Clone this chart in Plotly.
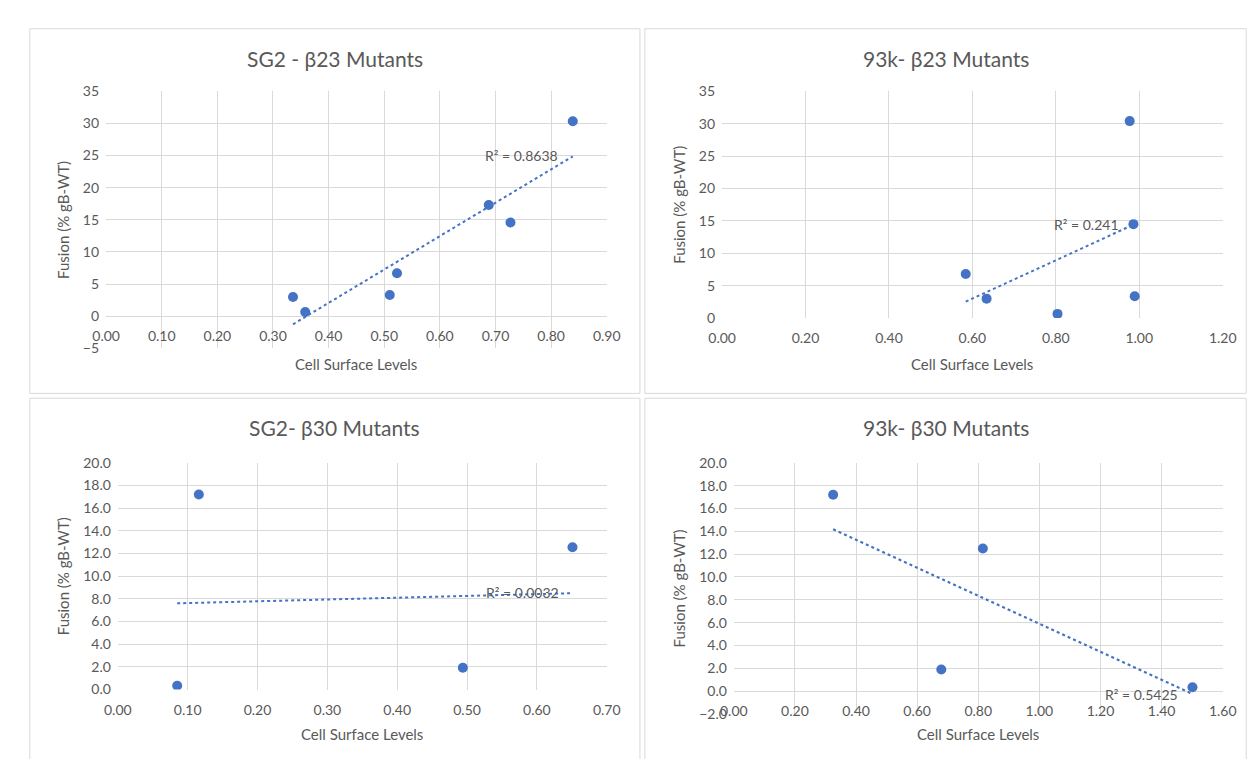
import numpy as np
import plotly.graph_objects as go

W, H = 1260, 759

# ---------------- data ----------------
titles = ["SG2 - β23 Mutants", "93k- β23 Mutants", "SG2- β30 Mutants", "93k- β30 Mutants"]
x_title = "Cell Surface Levels"
y_title = "Fusion (% gB-WT)"

sg2_b23_x = [0.336, 0.358, 0.510, 0.523, 0.688, 0.727, 0.839]
sg2_b23_y = [3.0, 0.65, 3.3, 6.7, 17.3, 14.6, 30.35]

k93_b23_x = [0.584, 0.634, 0.804, 0.977, 0.986, 0.989]
k93_b23_y = [6.8, 3.0, 0.65, 30.4, 14.5, 3.36]

sg2_b30_x = [0.085, 0.116, 0.494, 0.651]
sg2_b30_y = [0.34, 17.2, 1.92, 12.55]

k93_b30_x = [0.325, 0.679, 0.815, 1.501]
k93_b30_y = [17.2, 1.9, 12.5, 0.34]

r2_labels = ["R² = 0.8638", "R² = 0.241", "R² = 0.0032", "R² = 0.5425"]

x_ranges = [[0, 0.9], [0, 1.2], [0, 0.7], [0, 1.6]]
x_dticks = [0.1, 0.2, 0.1, 0.2]
y_ranges = [[-5, 35], [0, 35], [0, 20], [-2, 20]]
y_dticks = [5, 5, 2, 2]
y_formats = ["d", "d", ".1f", ".1f"]

series = [(sg2_b23_x, sg2_b23_y), (k93_b23_x, k93_b23_y),
          (sg2_b30_x, sg2_b30_y), (k93_b30_x, k93_b30_y)]

# ---------------- layout geometry (pixels) ----------------
plot_boxes = [(86, 76, 598, 339), (716, 76, 1228, 308),
              (98, 456, 598, 688), (728, 456, 1228, 713)]
panel_boxes = [(8, 12, 632, 385), (637, 12, 1252, 385),
               (8, 390, 632, 770), (637, 390, 1252, 770)]
title_pos = [(320, 42), (945, 42), (320, 420), (945, 420)]
xtitle_y = [355, 355, 733, 733]
ytitle_x = [42, 672, 42, 672]
label_pos = [(0.747, 25.0), (0.873, 14.4), (0.579, 8.54), (1.333, -0.29)]

BLUE = "#4472C4"
GRID = "#d9d9d9"
TXT = "#595959"
FONT = "Lato"

fig = go.Figure()
annotations = []
shapes = []

for i in range(4):
    xs, ys = series[i]
    sfx = "" if i == 0 else str(i + 1)
    l, t, r, b = plot_boxes[i]
    xdom = [l / W, r / W]
    ydom = [1 - b / H, 1 - t / H]
    ymin, ymax = y_ranges[i]
    pos = ydom[0] + (0 - ymin) / (ymax - ymin) * (ydom[1] - ydom[0])

    # trendline (least squares fit of the data)
    k, c = np.polyfit(xs, ys, 1)
    tx = [min(xs), max(xs)]
    ty = [k * v + c for v in tx]
    fig.add_trace(go.Scatter(x=tx, y=ty, mode="lines",
                             line=dict(color=BLUE, width=2, dash="dot"),
                             xaxis="x" + sfx, yaxis="y" + sfx,
                             showlegend=False, hoverinfo="skip"))
    fig.add_trace(go.Scatter(x=xs, y=ys, mode="markers",
                             marker=dict(color=BLUE, size=10),
                             xaxis="x" + sfx, yaxis="y" + sfx,
                             showlegend=False))

    fig.layout["xaxis" + sfx] = dict(
        domain=xdom, range=x_ranges[i], dtick=x_dticks[i], tick0=0,
        tickformat=".2f", anchor="free", position=pos,
        showgrid=True, gridcolor=GRID, gridwidth=1, zeroline=False,
        showline=False, ticks="", ticklabelstandoff=10,
        tickfont=dict(family=FONT, size=14, color=TXT), fixedrange=True)
    fig.layout["yaxis" + sfx] = dict(
        domain=ydom, range=y_ranges[i], dtick=y_dticks[i], tick0=0,
        tickformat=y_formats[i], anchor="x" + sfx,
        showgrid=True, gridcolor=GRID, gridwidth=1, zeroline=False,
        showline=False, ticks="", ticklabelstandoff=6,
        tickfont=dict(family=FONT, size=14, color=TXT), fixedrange=True)

    # panel border
    pl, pt, pr, pb = panel_boxes[i]
    shapes.append(dict(type="rect", xref="paper", yref="paper",
                       x0=pl / W, x1=pr / W, y0=1 - pb / H, y1=1 - pt / H,
                       line=dict(color=GRID, width=1), layer="below"))

    # chart title
    annotations.append(dict(text=titles[i], xref="paper", yref="paper",
                            x=title_pos[i][0] / W, y=1 - title_pos[i][1] / H,
                            xanchor="center", yanchor="middle", showarrow=False,
                            font=dict(family=FONT, size=21, color=TXT)))
    # x title
    annotations.append(dict(text=x_title, xref="paper", yref="paper",
                            x=(l + r) / 2 / W, y=1 - xtitle_y[i] / H,
                            xanchor="center", yanchor="middle", showarrow=False,
                            font=dict(family=FONT, size=15, color=TXT)))
    # y title
    annotations.append(dict(text=y_title, xref="paper", yref="paper",
                            x=ytitle_x[i] / W, y=1 - (t + b) / 2 / H,
                            xanchor="center", yanchor="middle", showarrow=False,
                            textangle=-90,
                            font=dict(family=FONT, size=15, color=TXT)))
    # R² label
    annotations.append(dict(text=r2_labels[i], xref="x" + sfx, yref="y" + sfx,
                            x=label_pos[i][0], y=label_pos[i][1],
                            xanchor="center", yanchor="middle", showarrow=False,
                            font=dict(family=FONT, size=14, color=TXT)))

fig.update_layout(width=W, height=H, margin=dict(l=0, r=0, t=0, b=0),
                  paper_bgcolor="white", plot_bgcolor="white",
                  annotations=annotations, shapes=shapes, showlegend=False)

fig.write_html("out.html", config={"displayModeBar": False})
